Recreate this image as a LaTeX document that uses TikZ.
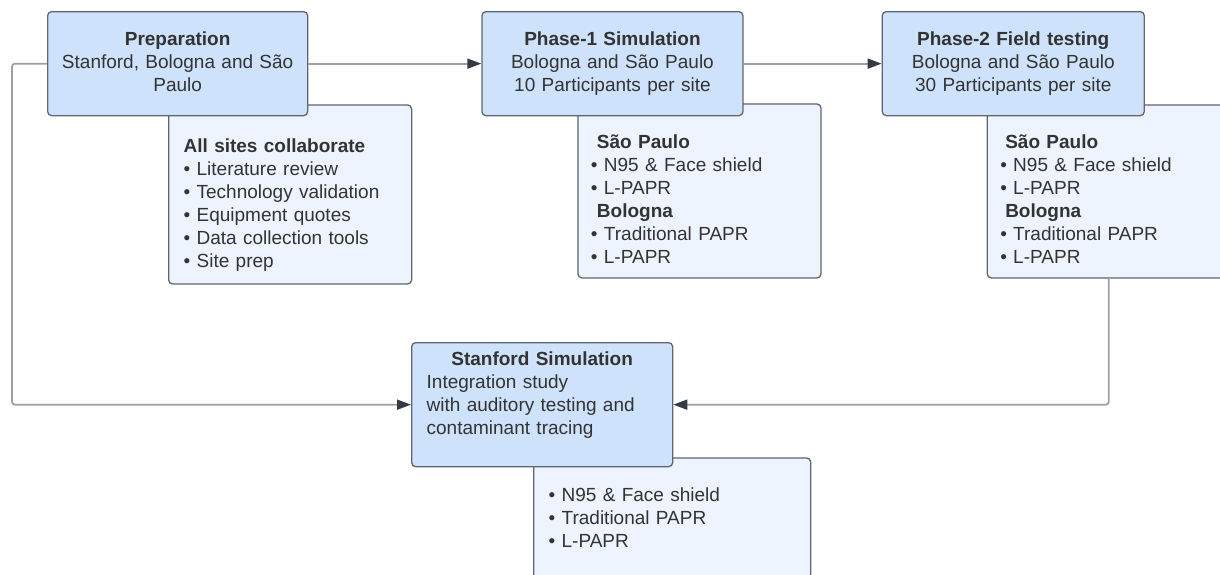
\documentclass[tikz,border=0pt]{standalone}
\usepackage{fontspec}
\setmainfont{Liberation Sans}
\usetikzlibrary{positioning, arrows.meta, backgrounds}
\definecolor{headfill}{HTML}{CFE2FC}
\definecolor{notefill}{HTML}{EDF4FE}
\definecolor{boxline}{HTML}{5F6670}
\definecolor{wire}{HTML}{9DA1A7}
\definecolor{tipc}{HTML}{343B45}
\definecolor{inkc}{HTML}{333333}

\begin{document}
\begin{tikzpicture}[x=1pt, y=1pt, node distance=173pt]
    \tikzstyle{phase} = [rectangle, rounded corners=4pt, draw=boxline, line width=1.3pt, fill=headfill, text=inkc, align=center, inner ysep=0pt, font=\fontsize{19}{23}\selectfont]
    \tikzstyle{note} = [rectangle, rounded corners=4pt, draw=boxline, line width=1.3pt, fill=notefill, text=inkc, align=left, inner ysep=0pt, font=\fontsize{19}{23}\selectfont]
    \tikzstyle{line} = [draw=wire, line width=1.8pt, rounded corners=3pt, -{Triangle[length=14pt, width=10pt, color=tipc]}]

    \useasboundingbox (0,0) rectangle (1220,-574);

    % top row
    \node [phase, text width=244pt, inner xsep=8pt, text height=34pt, text depth=70pt, anchor=north west] (prep) at (47,-11) {\textbf{Preparation}\\Stanford, Bologna and São\\Paulo};
    \node [phase, text width=245pt, inner xsep=8pt, text height=34pt, text depth=70pt, right=of prep] (ph1) {\textbf{Phase-1 Simulation}\\Bologna and São Paulo\\10 Participants per site};
    \node [phase, text width=246pt, inner xsep=8pt, text height=34pt, text depth=70pt, right=138pt of ph1] (ph2) {\textbf{Phase-2 Field testing}\\Bologna and São Paulo\\30 Participants per site};

    % bottom
    \node [phase, text width=231pt, inner xsep=15pt, text height=23pt, text depth=101pt, align=left, anchor=north west] (stan) at (411,-342) {{\centering\textbf{Stanford Simulation}\par}Integration study\\with auditory testing and\\contaminant tracing};

    % detail boxes sit behind the phase boxes
    \begin{pgfonlayer}{background}
    \node [note, text width=213pt, inner xsep=15pt, text height=48pt, text depth=131pt, below right=-12pt and 121pt of prep.south west] (d1) {\textbf{All sites collaborate}\\• Literature review\\• Technology validation\\• Equipment quotes\\• Data collection tools\\• Site prep};
    \node [note, text width=217pt, inner xsep=13pt, text height=45pt, text depth=129pt, below right=-13pt and 96pt of ph1.south west] (d2) {\hspace*{6pt}\textbf{São Paulo}\\• N95 \& Face shield\\• L-PAPR\\\hspace*{6pt}\textbf{Bologna}\\• Traditional PAPR\\• L-PAPR};
    \node [note, text width=217pt, inner xsep=13pt, text height=44pt, text depth=129pt, below right=-12pt and 105pt of ph2.south west] (d3) {\hspace*{5pt}\textbf{São Paulo}\\• N95 \& Face shield\\• L-PAPR\\\hspace*{5pt}\textbf{Bologna}\\• Traditional PAPR\\• L-PAPR};
    \node [note, text width=247pt, inner xsep=15pt, text height=44pt, text depth=100pt, below right=-10pt and 122pt of stan.south west] (d4) {• N95 \& Face shield\\• Traditional PAPR\\• L-PAPR};
    \end{pgfonlayer}

    \path [line] (prep) -- (ph1);
    \path [line] (ph1) -- (ph2);
    \path [line] (prep.west) -- ++(-35,0) |- (stan.west);
    \path [line] (d3.south) |- (stan.east);
\end{tikzpicture}
\end{document}
